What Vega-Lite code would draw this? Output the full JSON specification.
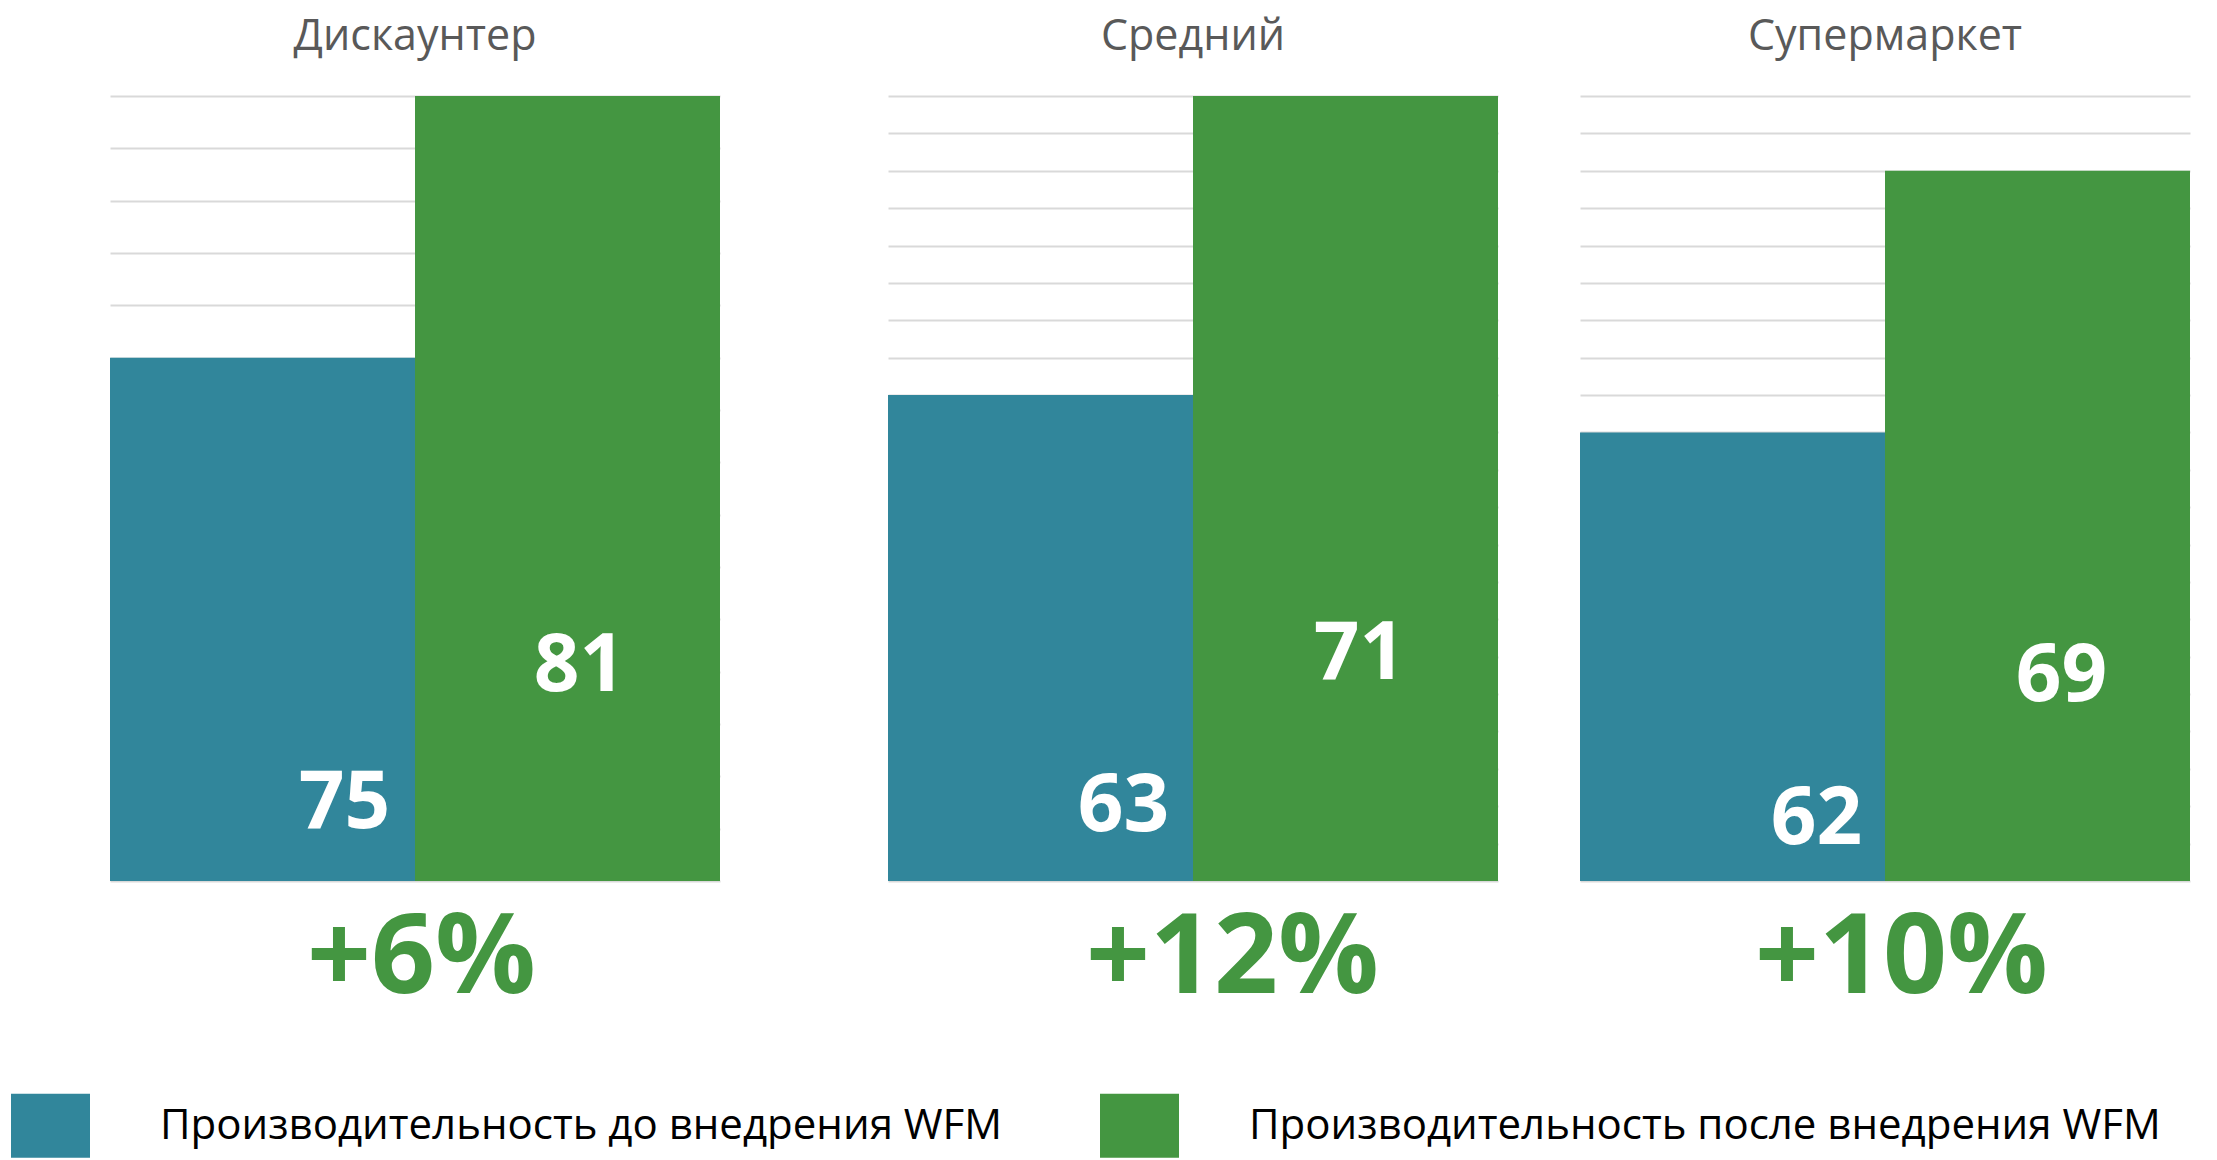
{
  "$schema": "https://vega.github.io/schema/vega-lite/v6.json",
  "padding": {"left": 11, "top": 16, "right": 10, "bottom": 0},
  "background": "white",
  "config": {
    "view": {"stroke": null},
    "font": "Open Sans",
    "title": {"font": "Open Sans", "fontSize": 43, "fontWeight": "normal", "color": "#595959", "baseline": "alphabetic", "offset": 37, "anchor": "middle"},
    "axisX": {"labels": false, "ticks": false, "domain": false, "grid": false, "titleFont": "Open Sans", "titleFontSize": 112, "titleFontWeight": "bold", "titleColor": "#449641", "titleBaseline": "alphabetic", "titlePadding": 111},
    "axisY": {"labels": false, "ticks": false, "domain": false, "grid": true, "gridColor": "#d9d9d9", "gridWidth": 2, "title": null},
    "legend": {"title": null, "padding": 0, "labelFont": "Open Sans", "labelFontSize": 42, "labelColor": "#000000", "labelLimit": 2000, "labelOffset": 70, "columnPadding": 97, "symbolType": "M-1,-0.81H1V0.81H-1Z", "symbolSize": 6241, "symbolStrokeWidth": 0, "symbolOpacity": 1}
  },
  "data": {"values": [
    {"type": "Дискаунтер", "series": "Производительность до внедрения WFM", "value": 75},
    {"type": "Дискаунтер", "series": "Производительность после внедрения WFM", "value": 81},
    {"type": "Средний", "series": "Производительность до внедрения WFM", "value": 63},
    {"type": "Средний", "series": "Производительность после внедрения WFM", "value": 71},
    {"type": "Супермаркет", "series": "Производительность до внедрения WFM", "value": 62},
    {"type": "Супермаркет", "series": "Производительность после внедрения WFM", "value": 69}
  ]},
  "spacing": 168,
  "resolve": {"scale": {"x": "independent", "y": "independent", "color": "shared"}},
  "hconcat": [
    {
      "width": 610, "height": 785,
      "title": "Дискаунтер",
      "transform": [{"filter": "datum.type === 'Дискаунтер'"}],
      "encoding": {
        "x": {"field": "series", "type": "nominal", "sort": null, "scale": {"paddingInner": 0, "paddingOuter": 0}, "axis": {"title": "+6%", "titleX": 311}},
        "y": {"field": "value", "type": "quantitative", "scale": {"domain": [63, 81], "zero": false, "nice": false}, "axis": {"values": [63, 64.2, 65.4, 66.6, 67.8, 69, 70.2, 71.4, 72.6, 73.8, 75, 76.2, 77.4, 78.6, 79.8, 81]}}
      },
      "layer": [
        {"mark": {"type": "bar", "strokeWidth": 0}, "encoding": {"y2": {"datum": 63}, "color": {"field": "series", "type": "nominal", "scale": {"domain": ["Производительность до внедрения WFM", "Производительность после внедрения WFM"], "range": ["#31869B", "#449641"]}, "legend": {"orient": "none", "direction": "horizontal", "columns": 2, "legendX": -99, "legendY": 990}}}},
        {"transform": [{"filter": "datum.series === 'Производительность до внедрения WFM'"}], "mark": {"type": "text", "dx": 82, "fontSize": 80, "fontWeight": "bold", "color": "white", "baseline": "middle", "font": "Open Sans"}, "encoding": {"y": {"datum": 64.77}, "text": {"field": "value"}}},
        {"transform": [{"filter": "datum.series === 'Производительность после внедрения WFM'"}], "mark": {"type": "text", "dx": 12, "fontSize": 80, "fontWeight": "bold", "color": "white", "baseline": "middle", "font": "Open Sans"}, "encoding": {"y": {"datum": 67.91}, "text": {"field": "value"}}}
      ]
    },
    {
      "spacing": 82,
      "resolve": {"scale": {"x": "independent", "y": "independent", "color": "shared"}},
      "hconcat": [
        {
          "width": 610, "height": 785,
          "title": "Средний",
          "transform": [{"filter": "datum.type === 'Средний'"}],
          "encoding": {
            "x": {"field": "series", "type": "nominal", "sort": null, "scale": {"paddingInner": 0, "paddingOuter": 0}, "axis": {"title": "+12%", "titleX": 344}},
            "y": {"field": "value", "type": "quantitative", "scale": {"domain": [50, 71], "zero": false, "nice": false}, "axis": {"values": [50, 51, 52, 53, 54, 55, 56, 57, 58, 59, 60, 61, 62, 63, 64, 65, 66, 67, 68, 69, 70, 71]}}
          },
          "layer": [
            {"mark": {"type": "bar", "strokeWidth": 0}, "encoding": {"y2": {"datum": 50}, "color": {"field": "series", "type": "nominal", "scale": {"domain": ["Производительность до внедрения WFM", "Производительность после внедрения WFM"], "range": ["#31869B", "#449641"]}, "legend": {"orient": "none", "direction": "horizontal", "columns": 2, "legendX": -99, "legendY": 990}}}},
            {"transform": [{"filter": "datum.series === 'Производительность до внедрения WFM'"}], "mark": {"type": "text", "dx": 83, "fontSize": 80, "fontWeight": "bold", "color": "white", "baseline": "middle", "font": "Open Sans"}, "encoding": {"y": {"datum": 51.98}, "text": {"field": "value"}}},
            {"transform": [{"filter": "datum.series === 'Производительность после внедрения WFM'"}], "mark": {"type": "text", "dx": 14, "fontSize": 80, "fontWeight": "bold", "color": "white", "baseline": "middle", "font": "Open Sans"}, "encoding": {"y": {"datum": 56.05}, "text": {"field": "value"}}}
          ]
        },
        {
          "width": 610, "height": 785,
          "title": "Супермаркет",
          "transform": [{"filter": "datum.type === 'Супермаркет'"}],
          "encoding": {
            "x": {"field": "series", "type": "nominal", "sort": null, "scale": {"paddingInner": 0, "paddingOuter": 0}, "axis": {"title": "+10%", "titleX": 321}},
            "y": {"field": "value", "type": "quantitative", "scale": {"domain": [50, 71], "zero": false, "nice": false}, "axis": {"values": [50, 51, 52, 53, 54, 55, 56, 57, 58, 59, 60, 61, 62, 63, 64, 65, 66, 67, 68, 69, 70, 71]}}
          },
          "layer": [
            {"mark": {"type": "bar", "strokeWidth": 0}, "encoding": {"y2": {"datum": 50}, "color": {"field": "series", "type": "nominal", "scale": {"domain": ["Производительность до внедрения WFM", "Производительность после внедрения WFM"], "range": ["#31869B", "#449641"]}, "legend": {"orient": "none", "direction": "horizontal", "columns": 2, "legendX": -99, "legendY": 990}}}},
            {"transform": [{"filter": "datum.series === 'Производительность до внедрения WFM'"}], "mark": {"type": "text", "dx": 84, "fontSize": 80, "fontWeight": "bold", "color": "white", "baseline": "middle", "font": "Open Sans"}, "encoding": {"y": {"datum": 51.62}, "text": {"field": "value"}}},
            {"transform": [{"filter": "datum.series === 'Производительность после внедрения WFM'"}], "mark": {"type": "text", "dx": 24, "fontSize": 80, "fontWeight": "bold", "color": "white", "baseline": "middle", "font": "Open Sans"}, "encoding": {"y": {"datum": 55.46}, "text": {"field": "value"}}}
          ]
        }
      ]
    }
  ]
}
